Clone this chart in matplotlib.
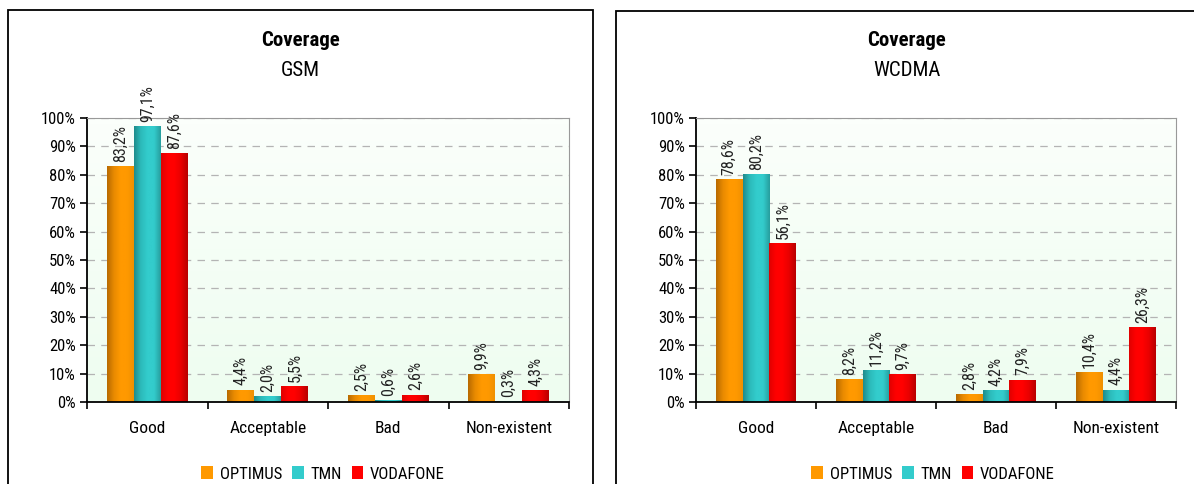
import numpy as np
import matplotlib
matplotlib.use("Agg")
import matplotlib.pyplot as plt
from matplotlib import font_manager as fm
from matplotlib.patches import Rectangle, Patch
from matplotlib.colors import LinearSegmentedColormap

# pick a narrow sans (like Arial Narrow) if one is installed
candidates = ['Liberation Sans Narrow', 'Arial Narrow', 'Roboto Condensed', 'PT Sans Narrow',
              'Fira Sans Condensed', 'Archivo Narrow', 'Pragati Narrow']
installed = {f.name for f in fm.fontManager.ttflist}
bold_ok = {f.name for f in fm.fontManager.ttflist if f.weight in (700, 'bold')}
narrow = next((c for c in candidates if c in installed), 'Liberation Sans')
narrow_bold = next((c for c in candidates if c in bold_ok), 'Liberation Sans')
plt.rcParams['font.family'] = [narrow, 'DejaVu Sans']

categories = ["Good", "Acceptable", "Bad", "Non-existent"]
operators = ["OPTIMUS", "TMN", "VODAFONE"]

gsm_optimus = [83.2, 4.4, 2.5, 9.9]
gsm_tmn = [97.1, 2.0, 0.6, 0.3]
gsm_vodafone = [87.6, 5.5, 2.6, 4.3]

wcdma_optimus = [78.6, 8.2, 2.8, 10.4]
wcdma_tmn = [80.2, 11.2, 4.2, 4.4]
wcdma_vodafone = [56.1, 9.7, 7.9, 26.3]

gradients = [
    ["#b86a00", "#e88a00", "#ff9900", "#ff9900", "#f09000"],
    ["#1f8c8c", "#2cbaba", "#33cccc", "#33cccc", "#279e9e"],
    ["#e00000", "#ff0000", "#ff0000", "#e80000", "#b80000"],
]
solid = ["#ff9900", "#33cccc", "#ff0000"]

fig = plt.figure(figsize=(11.94, 4.84), dpi=100)

# panel frames
fig.patches.append(Rectangle((8 / 1194, -0.05), 585 / 1194, 1.05 - 10 / 484,
                             transform=fig.transFigure, fill=False,
                             edgecolor="black", lw=1.3))
fig.patches.append(Rectangle((616 / 1194, -0.05), 600 / 1194, 1.05 - 11 / 484,
                             transform=fig.transFigure, fill=False,
                             edgecolor="black", lw=1.3))


def draw_panel(left, width, subtitle, series, title_x, legend_x):
    ax = fig.add_axes([left, 1 - 402 / 484, width, 284 / 484])
    x = np.arange(len(categories))
    w = 0.224
    ax.set_xlim(-0.5, len(categories) - 0.5)
    ax.set_ylim(0, 100)

    # background gradient
    bg = np.linspace(0, 1, 50).reshape(-1, 1)
    bg_cmap = LinearSegmentedColormap.from_list("bg", ["#eefdf0", "#fbfffb"])
    ax.imshow(bg, extent=[-0.5, len(categories) - 0.5, 0, 100], origin="lower",
              aspect="auto", cmap=bg_cmap, zorder=0)

    for i, vals in enumerate(series):
        cmap = LinearSegmentedColormap.from_list("g%d" % i, gradients[i])
        bars = ax.bar(x + (i - 1) * w, vals, w, color="none", edgecolor="none", zorder=2)
        for b, v in zip(bars, vals):
            grad = np.linspace(0, 1, 64).reshape(1, -1)
            im = ax.imshow(grad, extent=[b.get_x(), b.get_x() + b.get_width(), 0, v],
                           aspect="auto", cmap=cmap, zorder=2, origin="lower")
            im.set_clip_path(b)
            ax.annotate(("%.1f%%" % v).replace(".", ","),
                        (b.get_x() + b.get_width() / 2, v),
                        xytext=(0, 3), textcoords="offset points",
                        rotation=90, ha="center", va="bottom",
                        fontsize=11.5, color="#222222", zorder=4)

    ax.set_yticks(np.arange(0, 101, 10))
    ax.set_yticklabels(["%d%%" % t for t in range(0, 101, 10)], fontsize=12)
    ax.yaxis.grid(True, linestyle=(0, (6, 5)), color="#b4b4b4", lw=0.9, zorder=1)
    ax.set_axisbelow(True)
    ax.set_xticks(np.arange(-0.5, len(categories), 1.0))
    ax.set_xticklabels([])
    ax.set_xticks(x, minor=True)
    ax.set_xticklabels(categories, minor=True, fontsize=12.5)
    ax.tick_params(axis="x", which="minor", length=0, pad=14)
    ax.tick_params(axis="x", which="major", length=5, width=1.2, direction="out")
    ax.tick_params(axis="y", length=5, width=1.2, direction="out", pad=3)
    ax.spines["left"].set_linewidth(1.3)
    ax.spines["bottom"].set_linewidth(1.3)
    ax.spines["top"].set_color("#999999")
    ax.spines["right"].set_color("#999999")

    fig.text(title_x, 1 - 40 / 484, "Coverage", ha="center", va="center",
             fontsize=15, fontweight="bold", family=[narrow_bold, 'DejaVu Sans'])
    fig.text(title_x, 1 - 70 / 484, subtitle, ha="center", va="center", fontsize=15)

    handles = [Patch(facecolor=solid[i], edgecolor="none") for i in range(3)]
    fig.legend(handles, operators, loc="center", ncol=3, frameon=False,
               bbox_to_anchor=(legend_x, 1 - 474 / 484), fontsize=12,
               handlelength=0.7, handleheight=0.8, handletextpad=0.4,
               columnspacing=0.6)


draw_panel(87 / 1194, 482 / 1194, "GSM", [gsm_optimus, gsm_tmn, gsm_vodafone],
           300 / 1194, 323 / 1194)
draw_panel(696 / 1194, 480 / 1194, "WCDMA", [wcdma_optimus, wcdma_tmn, wcdma_vodafone],
           907 / 1194, 933 / 1194)

fig.savefig("out.png", dpi=100)
